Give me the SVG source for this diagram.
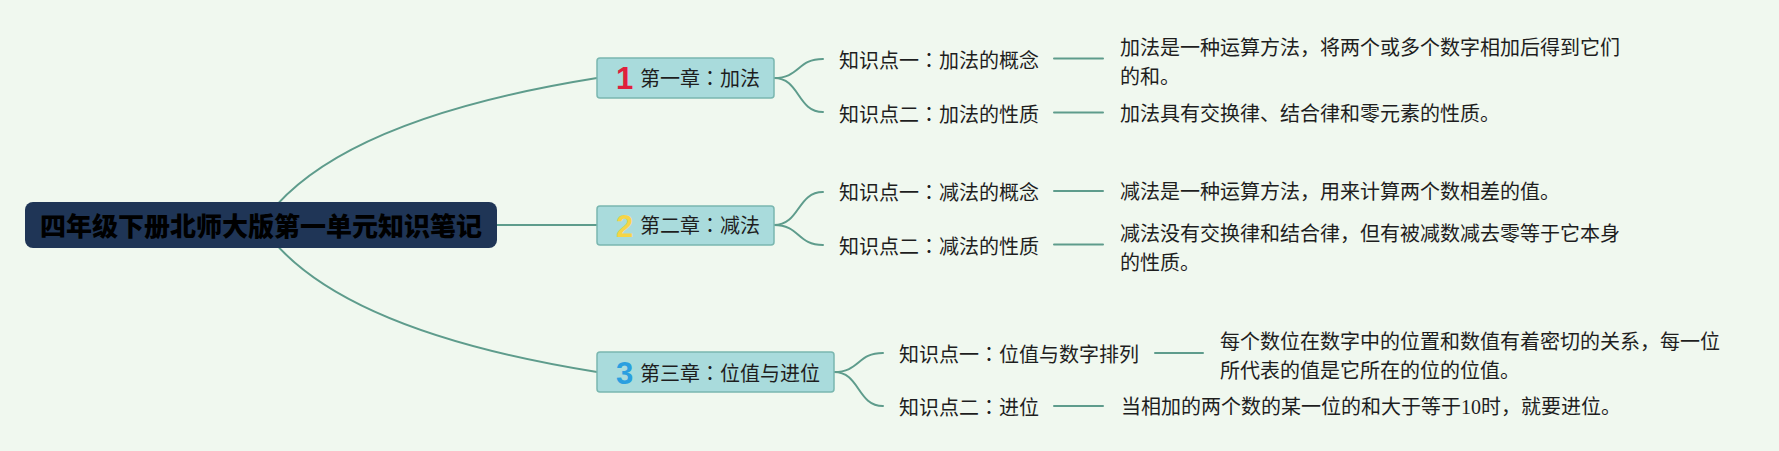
<svg xmlns="http://www.w3.org/2000/svg" width="1779" height="451" viewBox="0 0 1779 451">
<style>
.bg{fill:#f0f8ef}
.conn{fill:none;stroke:#5e9c8c;stroke-width:2;stroke-linecap:round}
.root{fill:#1f3556}
.roott{font-family:"Noto Sans CJK SC","Noto Sans",sans-serif;font-size:26px;font-weight:900;fill:#000;text-anchor:middle}
.ch{fill:#a9dbdc;stroke:#7ab7b0;stroke-width:1.5}
.cht{font-family:"Noto Sans CJK SC","Noto Sans",sans-serif;font-size:20px;fill:#1e1e1e}
.num{font-family:"Liberation Sans",Arial,sans-serif;font-size:31px;font-weight:700;text-anchor:middle}
.sub{font-family:"Noto Sans CJK SC","Noto Sans",sans-serif;font-size:20px;fill:#1e1e1e}
.det{font-family:"Liberation Serif","Noto Sans CJK SC",serif;font-size:20px;fill:#1e1e1e}
.col{font-family:"Noto Sans CJK TC","Noto Sans CJK SC",sans-serif}
</style>
<rect class="bg" x="0" y="0" width="1779" height="451"/>
<g id="connectors">
<path class="conn" d="M261,225 Q330.6,120.6 597,78"/>
<path class="conn" d="M497,225 L597,225"/>
<path class="conn" d="M261,225 Q330.6,329.4 597,372"/>
<path class="conn" d="M774,78 C800,78 797,59 823,59"/>
<path class="conn" d="M774,78 C800,78 797,112 823,112"/>
<path class="conn" d="M774,225 C800,225 797,192 823,192"/>
<path class="conn" d="M774,225 C800,225 797,245 823,245"/>
<path class="conn" d="M834,372 C860,372 857,353 883,353"/>
<path class="conn" d="M834,372 C860,372 857,406 883,406"/>
<path class="conn" d="M1054,58.5 L1103,58.5"/>
<path class="conn" d="M1054,112.5 L1103,112.5"/>
<path class="conn" d="M1054,191 L1103,191"/>
<path class="conn" d="M1054,244.5 L1103,244.5"/>
<path class="conn" d="M1155,353 L1203,353"/>
<path class="conn" d="M1054,406 L1103,406"/>
</g>
<g id="root">
<rect class="root" x="25" y="202" width="472" height="46" rx="8"/>
<text class="roott" x="261" y="236">四年级下册北师大版第一单元知识笔记</text>
</g>
<g id="ch1">
<rect class="ch" x="597" y="58" width="177" height="40" rx="3"/>
<text class="num" x="624.5" y="89" fill="#e0203c">1</text>
<text class="cht" x="640" y="86">第一章<tspan class="col">：</tspan>加法</text>
</g>
<g id="ch2">
<rect class="ch" x="597" y="206" width="177" height="39" rx="3"/>
<text class="num" x="624.5" y="236.6" fill="#f5d547">2</text>
<text class="cht" x="640" y="232.6">第二章<tspan class="col">：</tspan>减法</text>
</g>
<g id="ch3">
<rect class="ch" x="597" y="352" width="237" height="40" rx="3"/>
<text class="num" x="624.5" y="384" fill="#2a9fe0">3</text>
<text class="cht" x="640" y="381">第三章<tspan class="col">：</tspan>位值与进位</text>
</g>
<g id="k1a"><text class="sub" x="839" y="68">知识点一<tspan class="col">：</tspan>加法的概念</text></g>
<g id="k1b"><text class="sub" x="839" y="121.6">知识点二<tspan class="col">：</tspan>加法的性质</text></g>
<g id="k2a"><text class="sub" x="839" y="200">知识点一<tspan class="col">：</tspan>减法的概念</text></g>
<g id="k2b"><text class="sub" x="839" y="253.6">知识点二<tspan class="col">：</tspan>减法的性质</text></g>
<g id="k3a"><text class="sub" x="899" y="361.6">知识点一<tspan class="col">：</tspan>位值与数字排列</text></g>
<g id="k3b"><text class="sub" x="899" y="415">知识点二<tspan class="col">：</tspan>进位</text></g>
<g id="d1a"><text class="det" x="1120" y="54.6">加法是一种运算方法，将两个或多个数字相加后得到它们</text><text class="det" x="1120" y="83.6">的和。</text></g>
<g id="d1b"><text class="det" x="1120" y="120.6">加法具有交换律、结合律和零元素的性质。</text></g>
<g id="d2a"><text class="det" x="1120" y="198.6">减法是一种运算方法，用来计算两个数相差的值。</text></g>
<g id="d2b"><text class="det" x="1120" y="240.6">减法没有交换律和结合律，但有被减数减去零等于它本身</text><text class="det" x="1120" y="270">的性质。</text></g>
<g id="d3a"><text class="det" x="1220" y="348.6">每个数位在数字中的位置和数值有着密切的关系，每一位</text><text class="det" x="1220" y="378">所代表的值是它所在的位的位值。</text></g>
<g id="d3b"><text class="det" x="1121" y="413.6">当相加的两个数的某一位的和大于等于10时，就要进位。</text></g>
</svg>
